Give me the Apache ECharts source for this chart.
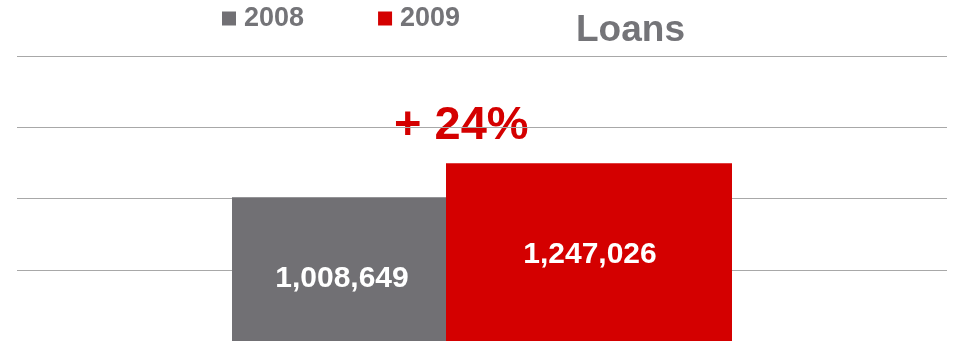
<!DOCTYPE html>
<html>
<head>
<meta charset="utf-8">
<script src="https://cdn.jsdelivr.net/npm/echarts@6/dist/echarts.min.js"></script>
<style>
  html, body { margin: 0; padding: 0; background: #ffffff; }
  #chart { width: 953px; height: 341px; }
</style>
</head>
<body>
<div id="chart"></div>
<script>
// Loan totals by year
const years = ['2008', '2009'];
const loans = [1008649, 1247026];
const barColors = ['#717074', '#d40000'];
const titleText = 'Loans';

const fmt = v => v.toLocaleString('en-US');
const growth = Math.round((loans[1] / loans[0] - 1) * 100);

const chart = echarts.init(document.getElementById('chart'), null, { renderer: 'canvas' });

const FONT = '"Liberation Sans", Arial, sans-serif';
const GREY_TEXT = '#747478';

chart.setOption({
  animation: false,
  backgroundColor: '#ffffff',
  title: {
    text: titleText,
    left: 576,
    top: 12,
    padding: 0,
    textStyle: { fontFamily: FONT, fontSize: 37, fontWeight: 'bold', color: GREY_TEXT }
  },
  legend: {
    data: years,
    left: 222,
    top: 5,
    padding: 0,
    itemWidth: 14,
    itemHeight: 14,
    itemGap: 74,
    icon: 'rect',
    textStyle: { fontFamily: FONT, fontSize: 27, fontWeight: 'bold', color: GREY_TEXT, padding: [0, 0, 0, 3] }
  },
  graphic: [{
    type: 'text',
    left: 394,
    top: 103,
    style: {
      text: '+ ' + growth + '%',
      font: 'bold 47px ' + FONT,
      fill: '#d40000'
    }
  }],
  grid: { left: 17, right: 6, top: 56, bottom: 0, containLabel: false },
  xAxis: {
    type: 'category',
    data: ['Loans'],
    axisLine: { show: false },
    axisTick: { show: false },
    axisLabel: { show: false }
  },
  yAxis: {
    type: 'value',
    min: 0,
    max: 2000000,
    interval: 500000,
    axisLine: { show: false },
    axisTick: { show: false },
    axisLabel: { show: false },
    splitLine: { show: true, lineStyle: { color: '#a8a8a8', width: 1 } }
  },
  series: [
    {
      name: years[0],
      type: 'bar',
      barWidth: 214,
      barGap: '0%',
      itemStyle: { color: barColors[0] },
      data: [loans[0]],
      z: 3,
      label: {
        show: true,
        position: 'inside',
        offset: [3, 10],
        formatter: p => fmt(p.value),
        fontFamily: FONT,
        fontSize: 30,
        fontWeight: 'bold',
        color: '#ffffff'
      }
    },
    {
      name: years[1],
      type: 'bar',
      barWidth: 286,
      barGap: '0%',
      itemStyle: { color: barColors[1] },
      data: [loans[1]],
      z: 3,
      label: {
        show: true,
        position: 'inside',
        offset: [1, 3],
        formatter: p => fmt(p.value),
        fontFamily: FONT,
        fontSize: 30,
        fontWeight: 'bold',
        color: '#ffffff'
      }
    }
  ]
});
</script>
</body>
</html>
